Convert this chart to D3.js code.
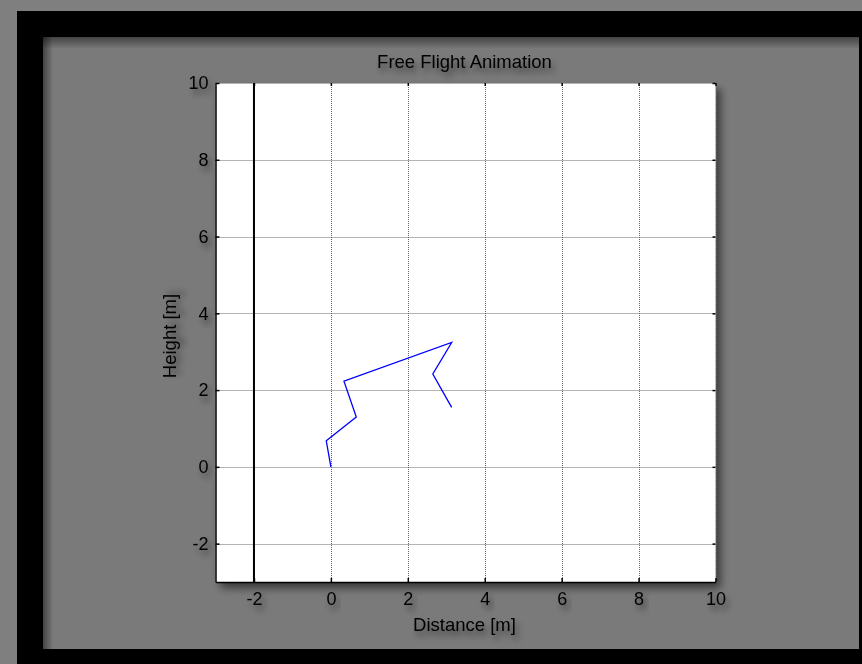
<!DOCTYPE html>
<html><head><meta charset="utf-8">
<script src="https://cdnjs.cloudflare.com/ajax/libs/d3/7.8.5/d3.min.js"></script>
<style>html,body{margin:0;padding:0;background:#808080;overflow:hidden}svg{display:block}</style>
</head><body>
<script>
// ---- data ----
const title = "Free Flight Animation";
const xLabel = "Distance [m]";
const yLabel = "Height [m]";
const xTicks = [-2, 0, 2, 4, 6, 8, 10];
const yTicks = [-2, 0, 2, 4, 6, 8, 10];
const xDomain = [-3, 10];
const yDomain = [-3, 10];
const pathX = [0, -0.12, 0.66, 0.34, 3.14, 2.65, 3.14];
const pathY = [0, 0.68, 1.30, 2.23, 3.24, 2.42, 1.55];
const wallX = [-2, -2];
const wallY = [-3, 10];

const W = 862, H = 664;
const svg = d3.select("body").append("svg").attr("width", W).attr("height", H);
const defs = svg.append("defs");
const ts = defs.append("filter").attr("id","tshadow").attr("x","-30%").attr("y","-60%").attr("width","170%").attr("height","280%");
ts.append("feDropShadow").attr("dx",3).attr("dy",5).attr("stdDeviation",3).attr("flood-color","#000").attr("flood-opacity",0.5);
const ps = defs.append("filter").attr("id","pshadow").attr("x","-10%").attr("y","-10%").attr("width","130%").attr("height","130%");
ps.append("feDropShadow").attr("dx",5).attr("dy",6).attr("stdDeviation",4).attr("flood-color","#000").attr("flood-opacity",0.55);
const gTop = defs.append("linearGradient").attr("id","gtop").attr("x1",0).attr("y1",0).attr("x2",0).attr("y2",1);
gTop.append("stop").attr("offset",0).attr("stop-color","#000").attr("stop-opacity",0.45);
gTop.append("stop").attr("offset",1).attr("stop-color","#000").attr("stop-opacity",0);
const gLeft = defs.append("linearGradient").attr("id","gleft").attr("x1",0).attr("y1",0).attr("x2",1).attr("y2",0);
gLeft.append("stop").attr("offset",0).attr("stop-color","#000").attr("stop-opacity",0.45);
gLeft.append("stop").attr("offset",1).attr("stop-color","#000").attr("stop-opacity",0);

// background frame
svg.append("rect").attr("width",W).attr("height",H).attr("fill","#7f7f7f");
svg.append("rect").attr("x",17).attr("y",11).attr("width",W).attr("height",H).attr("fill","#000");
svg.append("rect").attr("x",43).attr("y",37).attr("width",816).attr("height",612).attr("fill","#7a7a7a");
svg.append("rect").attr("x",43).attr("y",37).attr("width",816).attr("height",12).attr("fill","url(#gtop)");
svg.append("rect").attr("x",43).attr("y",37).attr("width",10).attr("height",612).attr("fill","url(#gleft)");

const L = 215.5, T = 83, R = 715.5, B = 582;
const x = d3.scaleLinear().domain(xDomain).range([L, R]);
const y = d3.scaleLinear().domain(yDomain).range([B, T]);
const fmt = d => String(d).replace("\u2212", "-");

// plot area
svg.append("rect").attr("x",L).attr("y",T).attr("width",R-L).attr("height",B-T)
  .attr("fill","#fff").attr("filter","url(#pshadow)");

// grid
const grid = svg.append("g").attr("stroke","#666").attr("stroke-width",1).attr("stroke-dasharray","1,1");
grid.selectAll("line.v").data(xTicks).join("line").attr("class","v")
  .attr("x1",d=>Math.round(x(d))+0.5).attr("x2",d=>Math.round(x(d))+0.5).attr("y1",T).attr("y2",B);
grid.selectAll("line.h").data(yTicks).join("line").attr("class","h")
  .attr("y1",d=>Math.round(y(d))+0.5).attr("y2",d=>Math.round(y(d))+0.5).attr("x1",L).attr("x2",R);

// wall
svg.append("line").attr("x1",x(wallX[0])).attr("x2",x(wallX[1])).attr("y1",y(wallY[0])).attr("y2",y(wallY[1]))
  .attr("stroke","#000").attr("stroke-width",2);

// axes
const fontFam = "'Liberation Sans', Arial, sans-serif";
const xAxis = svg.append("g").attr("transform",`translate(0,${B})`)
  .call(d3.axisBottom(x).tickValues(xTicks).tickSizeInner(-4).tickSizeOuter(0).tickPadding(10).tickFormat(fmt));
const xTop = svg.append("g").attr("transform",`translate(0,${T})`)
  .call(d3.axisTop(x).tickValues(xTicks).tickSizeInner(-3).tickSizeOuter(0).tickFormat(""));
const yAxis = svg.append("g").attr("transform",`translate(${L},0)`)
  .call(d3.axisLeft(y).tickValues(yTicks).tickSizeInner(-4).tickSizeOuter(0).tickPadding(7).tickFormat(fmt));
const yRight = svg.append("g").attr("transform",`translate(${R},0)`)
  .call(d3.axisRight(y).tickValues(yTicks).tickSizeInner(-3).tickSizeOuter(0).tickFormat(""));
xTop.select(".domain").remove();
yRight.select(".domain").remove();
[xAxis,yAxis,xTop,yRight].forEach(a=>{
  a.selectAll(".tick line").attr("stroke","#000").attr("stroke-width",1.5);
  a.selectAll("text").attr("fill","#000").attr("font-size","18px").attr("font-family",fontFam).attr("filter","url(#tshadow)");
});
xAxis.select(".domain").attr("stroke","#000").attr("stroke-width",1.5);
yAxis.select(".domain").attr("stroke","#000").attr("stroke-width",1.5);

// flight path
const line = d3.line().x(d=>x(d[0])).y(d=>y(d[1]));
svg.append("path").datum(pathX.map((v,i)=>[v,pathY[i]])).attr("d",line)
  .attr("fill","none").attr("stroke","#0000ff").attr("stroke-width",1.3);

// labels
svg.append("text").attr("x",(L+R)/2-1).attr("y",68).attr("text-anchor","middle")
  .attr("font-size","18.5px").attr("font-family",fontFam).attr("fill","#000").attr("filter","url(#tshadow)").text(title);
svg.append("text").attr("x",(L+R)/2-1).attr("y",631).attr("text-anchor","middle")
  .attr("font-size","18.5px").attr("font-family",fontFam).attr("fill","#000").attr("filter","url(#tshadow)").text(xLabel);
svg.append("text").attr("transform",`translate(176,336) rotate(-90)`).attr("text-anchor","middle")
  .attr("font-size","18.5px").attr("font-family",fontFam).attr("fill","#000").attr("filter","url(#tshadow)").text(yLabel);
</script>
</body></html>
